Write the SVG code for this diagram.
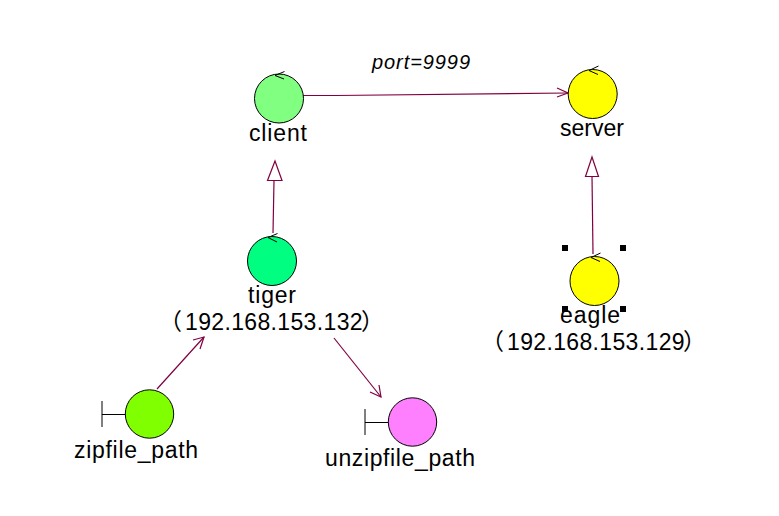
<svg xmlns="http://www.w3.org/2000/svg" width="779" height="516" viewBox="0 0 779 516">
<style>
text{font-family:"Liberation Sans",Arial,sans-serif;font-size:23px;fill:#000}
.ip{font-family:"Liberation Sans","Noto Sans CJK SC",sans-serif;letter-spacing:.35px}
.p{font-family:"Noto Sans CJK SC",sans-serif;letter-spacing:0}
.c{stroke:#000;stroke-width:1}
.t{fill:none;stroke:#000;stroke-width:1}
.l{fill:none;stroke:#800040;stroke-width:1.2}
.h{fill:#fff;stroke:#800040;stroke-width:1.2}
</style>
<rect width="779" height="516" fill="#fff"/>
<g id="connectors">
<path class="l" d="M303 95.500L336 95.500L568 93"/>
<path class="l" d="M557 88L568 93L557 97"/>
<path class="l" d="M273 233L274 181"/>
<polygon class="h" points="275,161 267.500,180.500 282,180.500"/>
<path class="l" d="M593 254L592 176"/>
<polygon class="h" points="592,157 585.500,176.500 598.500,176.500"/>
<path class="l" d="M157 389L204 337"/>
<path class="l" d="M193 340L204 337L200 349"/>
<path class="l" d="M334 338L381 397"/>
<path class="l" d="M370 392L381 397L379 385"/>
</g>
<text id="label-port" x="372" y="69" style="font-size:20px;font-style:italic" textLength="98">port=9999</text>
<g id="client">
<circle class="c" cx="279" cy="98.500" r="24.500" fill="#80ff80"/>
<path class="t" d="M284.500 71.500L275 75.500L284 79"/>
<text x="249" y="141" textLength="58">client</text>
</g>
<g id="server">
<circle class="c" cx="592.700" cy="94" r="24.500" fill="#ffff00"/>
<path class="t" d="M598.500 66L589 70.500L598 74.500"/>
<text x="560" y="136" textLength="64">server</text>
</g>
<g id="tiger">
<circle class="c" cx="272" cy="261" r="24.500" fill="#00ff80"/>
<path class="t" d="M277.500 233.500L268 237.500L277 242"/>
<text x="248" y="303" textLength="48">tiger</text>
<text class="ip" y="330"><tspan class="p" x="159">（</tspan><tspan x="185">192.168.153.132</tspan><tspan class="p" x="361">）</tspan></text>
</g>
<g id="eagle">
<circle class="c" cx="594.500" cy="281" r="24.500" fill="#ffff00"/>
<path class="t" d="M600.500 253L591 257.500L600 261.500"/>
<rect x="562" y="245" width="6" height="6" fill="#000"/>
<rect x="620" y="245" width="6" height="6" fill="#000"/>
<rect x="562" y="306" width="6" height="6" fill="#000"/>
<rect x="620" y="306" width="6" height="6" fill="#000"/>
<text x="560" y="323" textLength="60">eagle</text>
<text class="ip" y="350"><tspan class="p" x="481">（</tspan><tspan x="507">192.168.153.129</tspan><tspan class="p" x="683">）</tspan></text>
</g>
<g id="zipfile_path">
<circle class="c" cx="149.500" cy="414" r="24.200" fill="#80ff00"/>
<path class="t" d="M102 401V427M102 414.500H125"/>
<text x="74" y="458" textLength="124">zipfile_path</text>
</g>
<g id="unzipfile_path">
<circle class="c" cx="412.500" cy="422" r="24.200" fill="#ff80ff"/>
<path class="t" d="M365 409V435M365 422.500H388"/>
<text x="325" y="466" textLength="150">unzipfile_path</text>
</g>
</svg>
